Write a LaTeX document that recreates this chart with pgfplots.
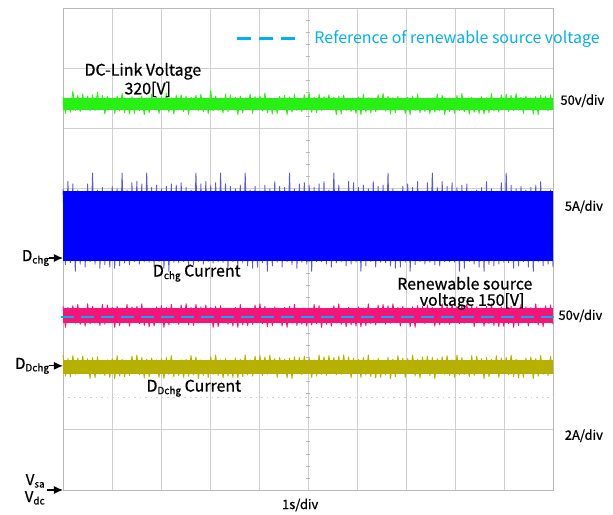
\documentclass[border=0pt]{standalone}
\usepackage{pgfplots}
\pgfplotsset{compat=1.18}
\usepackage{pgfplotstable}
\usepackage{fontspec}
\setmainfont{Noto Sans CJK KR}
\newfontfamily\medfont{Noto Sans CJK KR}[FakeBold=0.8]
\usetikzlibrary{arrows.meta}

\definecolor{trgreen}{RGB}{40,240,20}
\definecolor{trblue}{RGB}{0,0,255}
\definecolor{trspike}{RGB}{90,90,210}
\definecolor{trpink}{RGB}{245,20,120}
\definecolor{trolive}{RGB}{182,176,0}
\definecolor{refcyan}{RGB}{0,176,240}
\definecolor{gridgray}{RGB}{208,208,208}
\definecolor{boxgray}{RGB}{185,185,185}

\newcommand{\sub}[1]{\raisebox{-0.3ex}{\fontsize{10}{10}\selectfont #1}}

% DC-link voltage trace (divisions)
\pgfplotstableread[row sep=\\]{y\\
6.52\\6.25\\6.50\\6.27\\6.62\\6.30\\6.55\\6.28\\6.57\\6.32\\6.54\\6.29\\6.56\\6.30\\6.60\\6.31\\6.55\\6.24\\6.53\\6.32\\
6.51\\6.25\\6.54\\6.29\\6.58\\6.26\\6.50\\6.24\\6.53\\6.25\\6.49\\6.29\\6.54\\6.23\\6.51\\6.26\\6.57\\6.31\\6.53\\6.25\\
6.52\\6.32\\6.59\\6.27\\6.51\\6.24\\6.55\\6.31\\6.56\\6.28\\6.54\\6.23\\6.52\\6.32\\6.55\\6.30\\6.57\\6.28\\6.50\\6.25\\
6.63\\6.29\\6.54\\6.30\\6.49\\6.26\\6.57\\6.28\\6.56\\6.31\\6.52\\6.23\\6.54\\6.26\\6.51\\6.32\\6.57\\6.25\\6.53\\6.31\\
6.54\\6.29\\6.59\\6.26\\6.51\\6.24\\6.49\\6.25\\6.53\\6.31\\6.55\\6.23\\6.52\\6.27\\6.57\\6.30\\6.49\\6.28\\6.56\\6.31\\
6.58\\6.27\\6.52\\6.26\\6.57\\6.30\\6.53\\6.32\\6.56\\6.31\\6.52\\6.23\\6.54\\6.24\\6.55\\6.30\\6.49\\6.28\\6.50\\6.25\\
6.52\\6.23\\6.57\\6.27\\6.51\\6.26\\6.49\\6.28\\6.56\\6.31\\6.58\\6.29\\6.54\\6.24\\6.51\\6.26\\6.53\\6.32\\6.50\\6.25\\
6.52\\6.23\\6.54\\6.30\\6.57\\6.26\\6.49\\6.28\\6.50\\6.25\\6.51\\6.27\\6.57\\6.29\\6.55\\6.23\\6.50\\6.28\\6.49\\6.25\\
6.55\\6.30\\6.58\\6.28\\6.50\\6.24\\6.52\\6.27\\6.49\\6.25\\6.53\\6.24\\6.51\\6.26\\6.58\\6.29\\6.50\\6.27\\6.56\\6.32\\
6.57\\6.28\\6.55\\6.30\\6.58\\6.31\\6.52\\6.25\\6.54\\6.32\\6.51\\6.24\\6.53\\6.23\\6.55\\6.31\\6.54\\6.29\\6.56\\6.32\\
}\greentab

% Dchg current trace, spikes beyond the dense band
\pgfplotstableread[row sep=\\]{y\\
5.00\\3.74\\5.12\\3.77\\5.08\\3.63\\4.98\\3.75\\4.96\\3.70\\5.08\\3.79\\5.26\\3.75\\4.98\\3.68\\5.02\\3.74\\4.96\\3.70\\
5.04\\3.68\\5.00\\3.72\\5.26\\3.77\\4.98\\3.74\\5.10\\3.79\\5.12\\3.75\\5.08\\3.79\\5.26\\3.78\\5.02\\3.70\\5.06\\3.79\\
5.00\\3.68\\5.04\\3.63\\5.08\\3.78\\5.06\\3.77\\5.10\\3.79\\5.02\\3.70\\4.98\\3.74\\5.26\\3.79\\5.08\\3.75\\5.12\\3.79\\
5.06\\3.77\\5.10\\3.79\\5.26\\3.78\\5.08\\3.68\\5.04\\3.79\\5.00\\3.70\\5.06\\3.77\\5.26\\3.72\\4.98\\3.68\\5.04\\3.70\\
4.96\\3.77\\5.06\\3.63\\5.00\\3.72\\5.12\\3.78\\5.04\\3.70\\5.02\\3.79\\5.26\\3.74\\5.00\\3.68\\5.08\\3.78\\5.10\\3.75\\
5.06\\3.63\\5.02\\3.79\\5.08\\3.79\\5.12\\3.75\\4.98\\3.70\\5.26\\3.77\\5.06\\3.79\\4.96\\3.72\\5.12\\3.75\\5.10\\3.78\\
5.02\\3.63\\5.06\\3.72\\5.00\\3.79\\5.12\\3.70\\5.04\\3.78\\5.06\\3.77\\5.26\\3.72\\5.00\\3.68\\4.96\\3.70\\5.04\\3.78\\
5.08\\3.63\\5.02\\3.74\\5.12\\3.79\\4.96\\3.75\\5.10\\3.78\\5.26\\3.74\\5.02\\3.72\\5.12\\3.79\\5.04\\3.79\\5.10\\3.78\\
5.02\\3.63\\5.06\\3.68\\5.08\\3.79\\4.96\\3.75\\4.98\\3.70\\5.02\\3.63\\5.12\\3.74\\5.00\\3.72\\4.96\\3.75\\5.10\\3.78\\
5.26\\3.77\\5.06\\3.68\\5.00\\3.72\\5.04\\3.79\\4.98\\3.70\\5.02\\3.63\\5.06\\3.79\\5.12\\3.72\\4.96\\3.75\\4.98\\3.70\\
}\bluetab

% Renewable source voltage trace
\pgfplotstableread[row sep=\\]{y\\
3.05\\2.70\\3.03\\2.79\\3.06\\2.77\\3.08\\2.75\\3.01\\2.72\\3.09\\2.76\\3.05\\2.77\\3.00\\2.73\\3.08\\2.75\\3.07\\2.78\\
3.03\\2.70\\3.05\\2.73\\3.02\\2.79\\3.08\\2.72\\3.04\\2.78\\3.05\\2.76\\3.09\\2.73\\3.02\\2.71\\3.00\\2.72\\3.04\\2.78\\
3.06\\2.70\\3.03\\2.74\\3.08\\2.77\\3.00\\2.75\\3.07\\2.78\\3.09\\2.74\\3.03\\2.73\\3.08\\2.77\\3.04\\2.79\\3.07\\2.78\\
3.03\\2.70\\3.05\\2.71\\3.06\\2.77\\3.00\\2.75\\3.01\\2.72\\3.03\\2.70\\3.08\\2.74\\3.02\\2.73\\3.00\\2.75\\3.07\\2.78\\
3.09\\2.76\\3.05\\2.71\\3.02\\2.73\\3.04\\2.79\\3.01\\2.72\\3.03\\2.70\\3.05\\2.77\\3.08\\2.73\\3.00\\2.75\\3.01\\2.72\\
3.02\\2.74\\3.08\\2.76\\3.06\\2.70\\3.01\\2.75\\3.00\\2.72\\3.06\\2.77\\3.09\\2.75\\3.01\\2.71\\3.03\\2.74\\3.00\\2.72\\
3.04\\2.71\\3.02\\2.73\\3.09\\2.76\\3.01\\2.74\\3.07\\2.79\\3.08\\2.75\\3.06\\2.77\\3.09\\2.78\\3.03\\2.72\\3.05\\2.79\\
3.02\\2.71\\3.04\\2.70\\3.06\\2.78\\3.05\\2.76\\3.07\\2.79\\3.03\\2.72\\3.01\\2.74\\3.09\\2.77\\3.06\\2.75\\3.08\\2.79\\
3.05\\2.76\\3.07\\2.77\\3.09\\2.78\\3.06\\2.71\\3.04\\2.79\\3.02\\2.72\\3.05\\2.76\\3.09\\2.73\\3.01\\2.71\\3.04\\2.72\\
3.00\\2.76\\3.05\\2.70\\3.02\\2.73\\3.08\\2.78\\3.04\\2.72\\3.03\\2.79\\3.09\\2.74\\3.02\\2.71\\3.06\\2.78\\3.07\\2.75\\
}\pinktab

% DDchg current trace
\pgfplotstableread[row sep=\\]{y\\
2.24\\1.89\\2.18\\1.88\\2.23\\1.92\\2.19\\1.94\\2.22\\1.93\\2.18\\1.85\\2.20\\1.86\\2.21\\1.92\\2.15\\1.90\\2.16\\1.87\\
2.18\\1.85\\2.23\\1.89\\2.17\\1.88\\2.15\\1.90\\2.22\\1.93\\2.24\\1.91\\2.20\\1.86\\2.17\\1.88\\2.19\\1.94\\2.16\\1.87\\
2.18\\1.85\\2.20\\1.92\\2.23\\1.88\\2.15\\1.90\\2.16\\1.87\\2.17\\1.89\\2.23\\1.91\\2.21\\1.85\\2.16\\1.90\\2.15\\1.87\\
2.21\\1.92\\2.24\\1.90\\2.16\\1.86\\2.18\\1.89\\2.15\\1.87\\2.19\\1.86\\2.17\\1.88\\2.24\\1.91\\2.16\\1.89\\2.22\\1.94\\
2.23\\1.90\\2.21\\1.92\\2.24\\1.93\\2.18\\1.87\\2.20\\1.94\\2.17\\1.86\\2.19\\1.85\\2.21\\1.93\\2.20\\1.91\\2.22\\1.94\\
2.18\\1.87\\2.16\\1.89\\2.24\\1.92\\2.21\\1.90\\2.23\\1.94\\2.20\\1.91\\2.22\\1.92\\2.24\\1.93\\2.21\\1.86\\2.19\\1.94\\
2.17\\1.87\\2.20\\1.91\\2.24\\1.88\\2.16\\1.86\\2.19\\1.87\\2.15\\1.91\\2.20\\1.85\\2.17\\1.88\\2.23\\1.93\\2.19\\1.87\\
2.18\\1.94\\2.24\\1.89\\2.17\\1.86\\2.21\\1.93\\2.22\\1.90\\2.20\\1.85\\2.18\\1.94\\2.21\\1.92\\2.23\\1.90\\2.16\\1.87\\
2.24\\1.91\\2.20\\1.92\\2.15\\1.88\\2.23\\1.90\\2.22\\1.93\\2.18\\1.85\\2.20\\1.88\\2.17\\1.94\\2.23\\1.87\\2.19\\1.93\\
2.20\\1.91\\2.24\\1.88\\2.17\\1.86\\2.15\\1.87\\2.19\\1.93\\2.21\\1.85\\2.18\\1.89\\2.23\\1.92\\2.15\\1.90\\2.22\\1.93\\
}\olivetab

\begin{document}
\begin{tikzpicture}
\begin{axis}[
  scale only axis, width=490bp, height=482bp,
  xmin=0, xmax=10, ymin=0, ymax=8,
  xtick={0,1,...,10}, ytick={0,1,...,8},
  xticklabels={}, yticklabels={},
  major tick length=0pt,
  grid=major, grid style={draw=gridgray, line width=0.8bp},
  axis line style={draw=boxgray, line width=0.8bp},
  clip=false, unbounded coords=jump,
]
% centre graticule ticks
\addplot[draw=boxgray, line width=0.7bp] coordinates {
(4.955,0.2)(5.045,0.2)(5,nan)(4.955,0.4)(5.045,0.4)(5,nan)(4.955,0.6)(5.045,0.6)(5,nan)(4.955,0.8)(5.045,0.8)(5,nan)
(4.955,1.2)(5.045,1.2)(5,nan)(4.955,1.4)(5.045,1.4)(5,nan)(4.955,1.6)(5.045,1.6)(5,nan)(4.955,1.8)(5.045,1.8)(5,nan)
(4.955,2.2)(5.045,2.2)(5,nan)(4.955,2.4)(5.045,2.4)(5,nan)(4.955,2.6)(5.045,2.6)(5,nan)(4.955,2.8)(5.045,2.8)(5,nan)
(4.955,3.2)(5.045,3.2)(5,nan)(4.955,3.4)(5.045,3.4)(5,nan)(4.955,3.6)(5.045,3.6)(5,nan)(4.955,3.8)(5.045,3.8)(5,nan)
(4.955,4.2)(5.045,4.2)(5,nan)(4.955,4.4)(5.045,4.4)(5,nan)(4.955,4.6)(5.045,4.6)(5,nan)(4.955,4.8)(5.045,4.8)(5,nan)
(4.955,5.2)(5.045,5.2)(5,nan)(4.955,5.4)(5.045,5.4)(5,nan)(4.955,5.6)(5.045,5.6)(5,nan)(4.955,5.8)(5.045,5.8)(5,nan)
(4.955,6.2)(5.045,6.2)(5,nan)(4.955,6.4)(5.045,6.4)(5,nan)(4.955,6.6)(5.045,6.6)(5,nan)(4.955,6.8)(5.045,6.8)(5,nan)
(4.955,7.2)(5.045,7.2)(5,nan)(4.955,7.4)(5.045,7.4)(5,nan)(4.955,7.6)(5.045,7.6)(5,nan)(4.955,7.8)(5.045,7.8)};
\addplot[draw=gridgray, line width=0.8bp, dash pattern=on 1.5bp off 4bp] coordinates {(0,1.53)(10,1.53)};

% DC-link voltage
\addplot[draw=trgreen, line width=0.9bp, line join=round] table[x expr=\coordindex/19.9, y=y]{\greentab};
\addplot[fill=trgreen, draw=none] coordinates {(0,6.30)(10,6.30)(10,6.51)(0,6.51)} -- cycle;

% Dchg current
\addplot[draw=trspike, line width=0.9bp, line join=round] table[x expr=\coordindex/19.9, y=y]{\bluetab};
\addplot[fill=trblue, draw=none] coordinates {(0,3.80)(10,3.80)(10,4.97)(0,4.97)} -- cycle;

% renewable source voltage
\addplot[draw=trpink, line width=0.9bp, line join=round] table[x expr=\coordindex/19.9, y=y]{\pinktab};
\addplot[fill=trpink, draw=none] coordinates {(0,2.77)(10,2.77)(10,3.02)(0,3.02)} -- cycle;
\addplot[draw=refcyan, line width=2.6bp, dash pattern=on 13bp off 7bp] coordinates {(-0.05,2.87)(10.05,2.87)};

% DDchg current
\addplot[draw=trolive, line width=0.9bp, line join=round] table[x expr=\coordindex/19.9, y=y]{\olivetab};
\addplot[fill=trolive, draw=none] coordinates {(0,1.93)(10,1.93)(10,2.16)(0,2.16)} -- cycle;

% legend sample
\addplot[draw=refcyan, line width=2.6bp, dash pattern=on 14bp off 8bp] coordinates {(3.55,7.49)(4.73,7.49)};

% texts
\node[text=refcyan, font=\fontsize{16}{18}\selectfont, anchor=west] at (axis cs:5.06,7.49) {Reference of renewable source voltage};
\node[font=\medfont\fontsize{16}{18}\selectfont] at (axis cs:1.63,6.95) {DC-Link Voltage};
\node[font=\medfont\fontsize{16}{18}\selectfont] at (axis cs:1.73,6.65) {320[V]};
\node[font=\medfont\fontsize{16}{18}\selectfont] at (axis cs:2.73,3.60) {D\sub{chg} Current};
\node[font=\medfont\fontsize{16}{18}\selectfont] at (axis cs:8.2,3.43) {Renewable source};
\node[font=\medfont\fontsize{16}{18}\selectfont] at (axis cs:8.35,3.13) {voltage 150[V]};
\node[font=\medfont\fontsize{16}{18}\selectfont] at (axis cs:2.67,1.69) {D\sub{Dchg} Current};

\node[font=\medfont\fontsize{13}{15}\selectfont, anchor=west] at (axis cs:10.08,6.46) {50v/div};
\node[font=\medfont\fontsize{13}{15}\selectfont, anchor=west] at (axis cs:10.17,4.70) {5A/div};
\node[font=\medfont\fontsize{13}{15}\selectfont, anchor=west] at (axis cs:10.04,2.89) {50v/div};
\node[font=\medfont\fontsize{13}{15}\selectfont, anchor=west] at (axis cs:10.17,0.90) {2A/div};
\node[font=\medfont\fontsize{13}{15}\selectfont] at (axis cs:4.84,-0.25) {1s/div};

\draw[-{Latex[length=9bp,width=8bp]}, line width=1.2bp] (axis cs:-0.29,3.85) -- (axis cs:0,3.85);
\node[font=\medfont\fontsize{15}{16}\selectfont, anchor=east, inner sep=0.5bp] at (axis cs:-0.27,3.85) {D\sub{chg}};
\draw[-{Latex[length=9bp,width=8bp]}, line width=1.2bp] (axis cs:-0.29,2.06) -- (axis cs:0,2.06);
\node[font=\medfont\fontsize{15}{16}\selectfont, anchor=east, inner sep=0.5bp] at (axis cs:-0.27,2.06) {D\sub{Dchg}};
\draw[-{Latex[length=9bp,width=8bp]}, line width=1.2bp] (axis cs:-0.33,0) -- (axis cs:0,0);
\node[font=\medfont\fontsize{15}{16}\selectfont, anchor=east, inner sep=0.5bp] at (axis cs:-0.36,0.15) {V\sub{sa}};
\node[font=\medfont\fontsize{15}{16}\selectfont, anchor=east, inner sep=0.5bp] at (axis cs:-0.36,-0.13) {V\sub{dc}};
\end{axis}
\path[use as bounding box] (current axis.south west) ++(-63bp,-24bp) rectangle ++(613bp,514bp);
\end{tikzpicture}
\end{document}
